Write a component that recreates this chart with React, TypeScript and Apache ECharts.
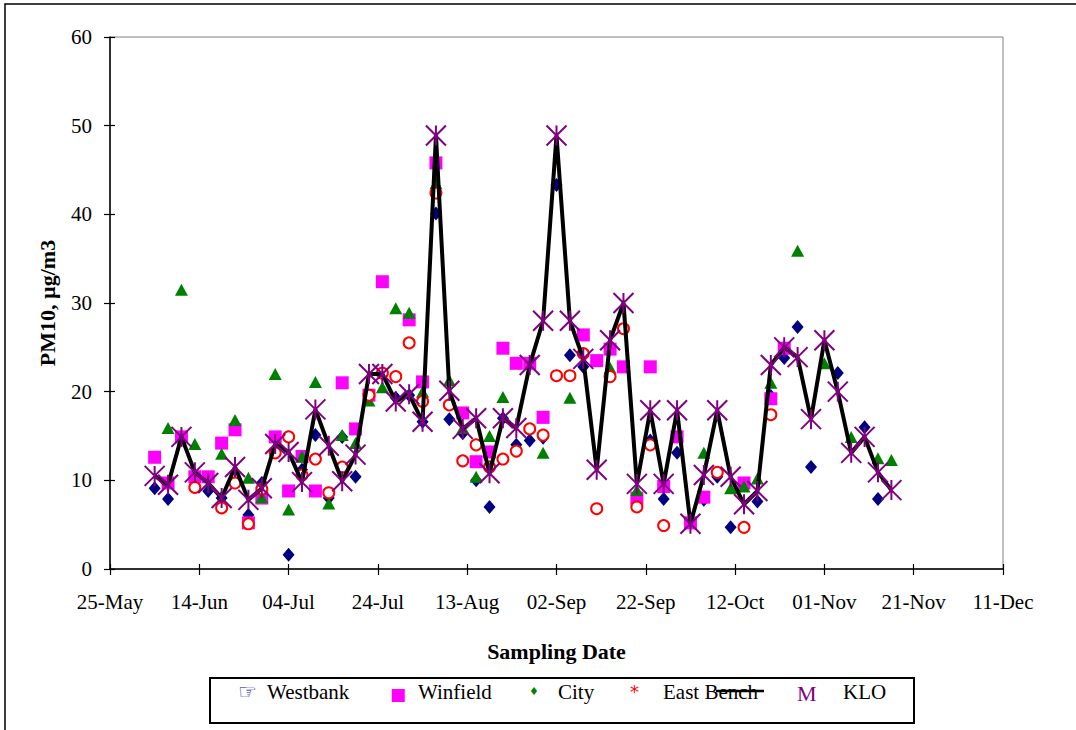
import React, { useEffect, useRef } from 'react';
import * as echarts from 'echarts';

// ---- data ----
const tickLabels = ['25-May', '14-Jun', '04-Jul', '24-Jul', '13-Aug', '02-Sep', '22-Sep', '12-Oct', '01-Nov', '21-Nov', '11-Dec'];

// sampling days, counted from 25-May
const sampleDays = [
  10, 13, 16, 19, 22, 25, 28, 31, 34, 37,
  40, 43, 46, 49, 52, 55, 58, 61, 64, 67,
  70, 73, 76, 79, 82, 85, 88, 91, 94, 97,
  100, 103, 106, 109, 112, 115, 118, 121, 124, 127,
  130, 133, 136, 139, 142, 145, 148, 151, 154, 157,
  160, 163, 166, 169, 172, 175,
];

const westbank = [
  9.1, 7.9, null, null, 8.8, 8.0, null, 6.1, 9.7, null,
  1.6, 11.2, 15.1, 8.0, 14.9, 10.4, null, null, 19.3, 19.6,
  16.6, 40.1, 16.9, 15.3, 10.0, 7.0, 17.0, 14.0, 14.5, 14.8,
  43.3, 24.1, 22.8, null, null, null, null, 14.5, 7.9, 13.1,
  null, 7.8, 10.4, 4.7, null, 7.6, 19.5, 23.8, 27.3, 11.5,
  null, 22.1, null, 16.0, 7.9, null,
];

const winfield = [
  12.6, 9.7, 14.9, 10.4, 10.4, 14.2, 15.7, 5.2, 8.0, 14.9,
  8.8, 12.7, 8.8, null, 21.0, 15.8, 19.6, 32.4, null, 28.1,
  21.1, 45.8, null, 17.6, 12.1, 13.2, 24.9, 23.2, 23.2, 17.1,
  null, null, 26.4, 23.5, 24.8, 22.8, 8.0, 22.8, 9.3, 14.9,
  5.2, 8.1, null, null, 9.7, null, 19.2, 24.9, null, null,
  null, null, null, null, null, null,
];

const city = [
  null, 15.9, 31.5, 14.1, null, 13.0, 16.8, 10.3, 8.1, 22.0,
  6.7, 12.7, 21.1, 7.4, 15.1, 14.2, 19.0, 20.5, 29.4, 28.9,
  20.0, 43.5, 21.3, 15.9, 10.4, 15.0, 19.4, null, null, 13.1,
  null, 19.3, null, null, 22.7, null, 8.9, null, null, null,
  null, 13.1, null, 9.1, 9.3, 10.2, 21.0, null, 35.9, null,
  23.2, null, 14.9, null, 12.5, 12.3,
];

const eastBench = [
  null, null, null, 9.2, null, 6.9, 9.7, 5.1, 9.0, 13.1,
  14.9, 10.6, 12.4, 8.6, 11.5, null, 19.6, 22.1, 21.7, 25.5,
  18.9, 42.4, 18.5, 12.2, 14.0, 11.5, 12.4, 13.3, 15.8, 15.1,
  21.8, 21.8, 24.3, 6.8, 21.7, 27.1, 7.0, 14.0, 4.9, null,
  null, null, 10.9, null, 4.7, null, 17.4, null, null, null,
  null, null, null, null, null, null,
];

const klo = [
  10.5, 9.5, 14.9, 10.9, 9.7, 8.0, 11.5, 7.8, 9.1, 14.1,
  13.2, 9.8, 18.0, 13.9, 9.9, 12.9, 22.0, 22.0, 18.9, 19.7,
  16.6, 48.9, 20.1, 15.8, 17.0, 10.8, 17.0, 15.9, 23.0, 28.0,
  48.9, 28.0, 23.7, 11.2, 25.8, 30.0, 9.6, 17.9, 9.6, 17.9,
  5.1, 10.6, 17.9, 10.4, 7.3, 8.8, 23.0, 25.0, 23.9, 16.9,
  25.8, 20.0, 13.1, 14.9, 10.9, 8.9,
];

const seriesNames = ['Westbank', 'Winfield', 'City', 'East Bench', 'KLO'];

// ---- helpers ----
const serif = "'Liberation Serif', 'Times New Roman', serif";

function toPoints(vals: (number | null)[]) {
  const out: [number, number][] = [];
  sampleDays.forEach((d, i) => {
    const v = vals[i];
    if (v !== null && v !== undefined) out.push([d, v]);
  });
  return out;
}

const legendKeys: Record<string, string> = {
  Westbank: 'wb',
  Winfield: 'wf',
  City: 'ci',
  'East Bench': 'eb',
  KLO: 'kl',
};
const legendGlyphs: Record<string, string> = {
  Westbank: '\u261E',
  Winfield: '\u25A0',
  City: '\u2666',
  'East Bench': '*',
  KLO: 'M',
};
const legendLefts = [233, 385, 524, 625, 792];

export default function App() {
  const ref = useRef<HTMLDivElement>(null);

  useEffect(() => {
    document.body.style.margin = '0';
    if (!ref.current) return;
    const chart = echarts.init(ref.current, undefined, { renderer: 'svg' });

    const axisLineStyle = { color: '#000', width: 1.5 };
    const tickStyle = { color: '#000', width: 1.2 };

    const rich = {
      gwb: { width: 29, color: '#0a0a96', fontSize: 21, fontFamily: 'DejaVu Sans' },
      gwf: { width: 28, color: '#ff00ff', fontSize: 17, fontFamily: 'DejaVu Sans', padding: [4, 0, 0, 0] },
      gci: { width: 29, color: '#008000', fontSize: 11, fontFamily: 'DejaVu Sans' },
      geb: { width: 33, color: '#ff0000', fontSize: 18, fontFamily: 'DejaVu Sans' },
      gkl: { width: 46, color: '#800080', fontSize: 22, fontFamily: serif, padding: [4, 0, 0, 0] },
      t: { fontFamily: serif, fontSize: 21, color: '#000' },
    };

    const legends = seriesNames.map((name, i) => ({
      left: legendLefts[i],
      top: 681,
      padding: 0,
      itemGap: 0,
      itemWidth: 0,
      itemHeight: 14,
      icon: 'none',
      selectedMode: false,
      data: [name],
      formatter: (n: string) => `{g${legendKeys[n]}|${legendGlyphs[n]}}{t|${n}}`,
      textStyle: { fontFamily: serif, fontSize: 21, color: '#000', rich },
    }));

    const option: any = {
      animation: false,
      backgroundColor: '#ffffff',
      grid: {
        left: 110,
        top: 37,
        right: 73,
        bottom: 161,
        show: true,
        borderColor: '#808080',
        borderWidth: 1,
        backgroundColor: 'transparent',
        containLabel: false,
        outerBoundsMode: 'none',
      },
      xAxis: [
        {
          type: 'value',
          min: 0,
          max: 200,
          interval: 20,
          position: 'bottom',
          axisLine: { show: true, onZero: false, lineStyle: axisLineStyle },
          axisTick: { show: true, inside: false, length: 6, lineStyle: tickStyle },
          axisLabel: {
            margin: 22,
            fontFamily: serif,
            fontSize: 21,
            color: '#000',
            showMinLabel: true,
            showMaxLabel: true,
            hideOverlap: false,
            formatter: (v: number) => tickLabels[Math.round(v / 20)] ?? '',
          },
          splitLine: { show: false },
          name: 'Sampling Date',
          nameLocation: 'middle',
          nameGap: 71,
          nameTextStyle: { fontFamily: serif, fontSize: 22, fontWeight: 'bold', color: '#000' },
        },
        {
          type: 'value',
          min: 0,
          max: 200,
          interval: 20,
          position: 'bottom',
          axisLine: { show: false },
          axisTick: { show: true, inside: true, length: 5, lineStyle: tickStyle },
          axisLabel: { show: false },
          splitLine: { show: false },
        },
      ],
      yAxis: [
        {
          type: 'value',
          min: 0,
          max: 60,
          interval: 10,
          position: 'left',
          axisLine: { show: true, onZero: false, lineStyle: axisLineStyle },
          axisTick: { show: true, inside: false, length: 6, lineStyle: tickStyle },
          axisLabel: { margin: 18, fontFamily: serif, fontSize: 21, color: '#000' },
          splitLine: { show: false },
          name: 'PM10, \u00B5g/m3',
          nameLocation: 'middle',
          nameGap: 52,
          nameTextStyle: { fontFamily: serif, fontSize: 22, fontWeight: 'bold', color: '#000' },
        },
        {
          type: 'value',
          min: 0,
          max: 60,
          interval: 10,
          position: 'left',
          axisLine: { show: false },
          axisTick: { show: true, inside: true, length: 5, lineStyle: tickStyle },
          axisLabel: { show: false },
          splitLine: { show: false },
        },
      ],
      legend: legends,
      graphic: [
        {
          type: 'rect',
          silent: true,
          shape: { x: 5, y: 4, width: 1200, height: 900 },
          style: { fill: 'none', stroke: '#000', lineWidth: 1.5 },
        },
        {
          type: 'rect',
          silent: true,
          shape: { x: 210, y: 678, width: 704, height: 45 },
          style: { fill: 'none', stroke: '#000', lineWidth: 2 },
        },
        {
          type: 'line',
          silent: true,
          shape: { x1: 716, y1: 691, x2: 764, y2: 691 },
          style: { stroke: '#000', lineWidth: 2.5 },
        },
      ],
      series: [
        {
          name: 'Westbank',
          type: 'scatter',
          data: toPoints(westbank),
          symbol: 'diamond',
          symbolSize: [12, 14],
          itemStyle: { color: '#000080', opacity: 1 },
        },
        {
          name: 'Winfield',
          type: 'scatter',
          data: toPoints(winfield),
          symbol: 'rect',
          symbolSize: 13,
          itemStyle: { color: '#ff00ff', opacity: 1 },
        },
        {
          name: 'City',
          type: 'scatter',
          data: toPoints(city),
          symbol: 'triangle',
          symbolSize: [13, 12],
          itemStyle: { color: '#008000', opacity: 1 },
        },
        {
          name: 'East Bench',
          type: 'scatter',
          data: toPoints(eastBench),
          symbol: 'circle',
          symbolSize: 11,
          itemStyle: { color: '#ffffff', borderColor: '#ff0000', borderWidth: 2, opacity: 1 },
        },
        {
          name: 'KLO',
          type: 'line',
          data: toPoints(klo),
          symbol: 'path://M0,0L20,20M20,0L0,20M10,0L10,20',
          symbolSize: 20,
          showSymbol: true,
          lineStyle: { color: '#000000', width: 4 },
          itemStyle: { color: 'transparent', borderColor: '#800080', borderWidth: 2 },
          z: 3,
        },
      ],
    };

    chart.setOption(option);
    return () => {
      chart.dispose();
    };
  }, []);

  return <div ref={ref} style={{ width: 1076, height: 730, background: '#fff' }} />;
}
